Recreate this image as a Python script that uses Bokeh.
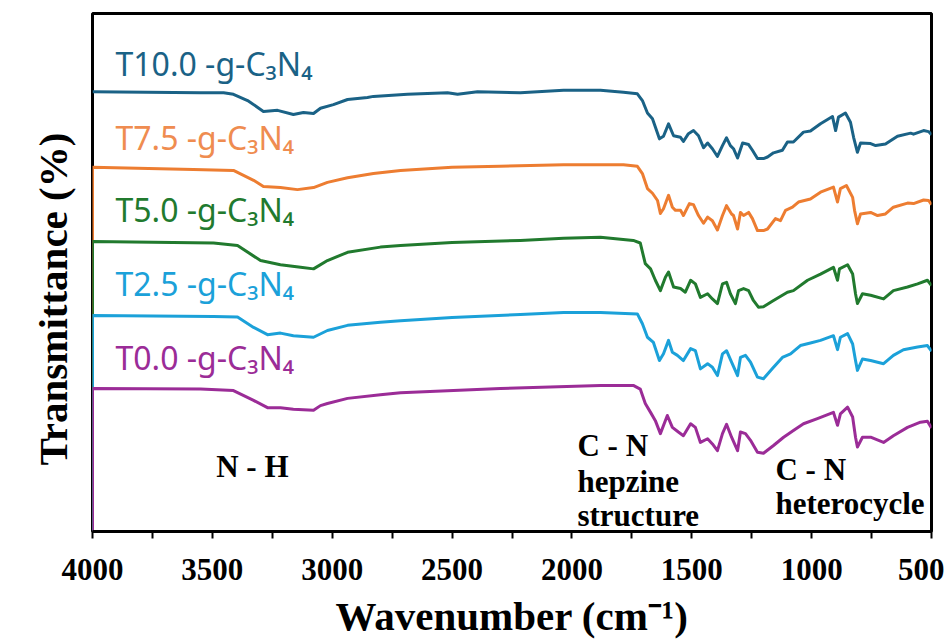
from bokeh.plotting import figure
from bokeh.models import Range1d, FixedTicker, Label, Title
from bokeh.embed import file_html
from bokeh.resources import INLINE

# ---------------- data ----------------
wn_t10 = [4000, 3549, 3453, 3412, 3353, 3287, 3228, 3162, 3120, 3078, 3049, 2995, 2936, 2853, 2828,
          2686, 2519, 2477, 2394, 2215, 2035, 1881, 1785, 1727, 1706, 1685, 1664, 1652, 1635, 1618,
          1597, 1576, 1547, 1535, 1514, 1493, 1472, 1451, 1434, 1414, 1393, 1372, 1355, 1339, 1326,
          1309, 1288, 1263, 1247, 1226, 1201, 1184, 1159, 1122, 1101, 1076, 1034, 1005, 963, 913,
          900, 888, 859, 838, 825, 809, 796, 754, 733, 692, 642, 587, 575, 533, 512, 500]
tr_t10 = [84.9, 84.7, 84.7, 84.4, 83.2, 81.1, 81.3, 80.5, 80.9, 80.7, 81.7, 82.4, 83.4, 83.8, 84.0,
          84.4, 84.7, 84.4, 84.9, 84.7, 85.2, 85.2, 84.8, 84.5, 83.2, 80.8, 79.7, 78.1, 75.8, 76.3,
          78.7, 76.4, 76.1, 75.3, 76.8, 77.4, 76.4, 74.1, 75.0, 73.9, 72.4, 74.5, 76.0, 74.5, 73.9,
          72.1, 75.0, 74.7, 73.6, 72.0, 72.0, 72.3, 73.1, 73.6, 75.2, 75.2, 77.1, 77.3, 78.7, 80.1,
          77.4, 80.0, 80.8, 79.0, 76.1, 73.2, 75.0, 74.9, 74.5, 74.8, 76.3, 76.9, 76.7, 77.4, 77.2, 76.6]

wn_t75 = [4000, 4000, 3579, 3412, 3328, 3287, 3216, 3145, 3078, 3020, 2936, 2828, 2715, 2500, 2300,
          2035, 1881, 1785, 1727, 1706, 1685, 1664, 1643, 1631, 1618, 1597, 1581, 1568, 1547, 1535,
          1510, 1493, 1472, 1451, 1434, 1414, 1393, 1372, 1355, 1334, 1326, 1309, 1297, 1284, 1263,
          1247, 1226, 1201, 1184, 1151, 1130, 1109, 1080, 1055, 1005, 963, 909, 892, 880, 855,
          829, 821, 809, 796, 754, 725, 692, 659, 600, 575, 533, 512, 500]
tr_t75 = [0.0, 70.3, 69.9, 69.7, 67.8, 66.6, 66.4, 66.0, 66.4, 67.4, 68.3, 69.1, 69.7, 70.3, 70.5,
          70.8, 70.8, 70.8, 70.5, 69.1, 66.2, 65.3, 63.9, 61.4, 62.3, 64.9, 62.6, 62.0, 62.0, 61.0,
          63.3, 63.1, 61.0, 59.5, 60.7, 60.0, 58.2, 61.0, 62.9, 61.3, 61.0, 58.4, 61.6, 61.0, 61.6,
          60.4, 58.1, 58.1, 58.4, 60.4, 60.0, 62.0, 62.6, 63.6, 64.2, 65.5, 66.5, 63.6, 66.2, 66.8,
          64.5, 62.0, 59.4, 61.3, 61.6, 61.0, 61.3, 62.6, 63.4, 63.3, 64.0, 63.9, 63.1]

wn_t50 = [4000, 4000, 3495, 3395, 3299, 3216, 3132, 3078, 3020, 2936, 2799, 2715, 2500, 2215, 2035,
          1881, 1744, 1715, 1694, 1672, 1652, 1631, 1610, 1597, 1576, 1547, 1527, 1505, 1485, 1464,
          1434, 1414, 1393, 1372, 1355, 1339, 1318, 1305, 1284, 1263, 1243, 1222, 1201, 1159, 1101,
          1076, 1017, 963, 909, 892, 884, 850, 829, 817, 809, 788, 754, 700, 659, 600, 558, 517, 500]
tr_t50 = [0.0, 56.0, 55.7, 55.2, 52.3, 51.5, 51.0, 50.7, 52.3, 53.9, 54.9, 55.2, 55.8, 56.2, 56.6,
          56.8, 56.2, 55.7, 51.7, 50.7, 48.5, 46.5, 49.1, 50.1, 47.2, 46.9, 46.2, 48.5, 47.8, 45.2,
          45.9, 44.9, 44.0, 47.8, 48.1, 45.9, 44.0, 46.5, 46.9, 46.5, 44.6, 43.3, 43.4, 44.6, 46.2,
          46.5, 48.5, 49.7, 51.0, 48.5, 50.7, 51.5, 49.7, 45.9, 44.0, 45.9, 45.6, 44.9, 46.5, 47.2,
          47.8, 48.5, 47.5]

wn_t25 = [4000, 4000, 3495, 3395, 3328, 3270, 3216, 3162, 3078, 3020, 2936, 2799, 2715, 2500, 2215,
          2035, 1881, 1727, 1706, 1685, 1660, 1635, 1618, 1597, 1581, 1560, 1535, 1505, 1485, 1464,
          1434, 1414, 1393, 1372, 1355, 1334, 1309, 1297, 1276, 1255, 1226, 1201, 1159, 1122, 1088,
          1047, 1005, 963, 909, 892, 880, 850, 829, 817, 809, 788, 754, 700, 659, 617, 558, 517, 500]
tr_t25 = [0.0, 41.7, 41.5, 41.4, 39.4, 38.0, 38.3, 37.8, 37.5, 38.8, 39.8, 40.4, 40.7, 41.3, 41.9,
          42.3, 42.3, 42.0, 40.1, 37.5, 36.5, 33.0, 34.3, 36.9, 34.6, 34.0, 33.0, 35.3, 34.9, 31.4,
          32.4, 31.7, 30.1, 34.3, 34.9, 32.7, 30.1, 33.6, 34.0, 32.7, 29.8, 29.5, 31.7, 33.6, 34.3,
          35.9, 36.4, 36.9, 37.8, 35.1, 37.5, 38.2, 36.2, 33.0, 31.1, 33.3, 33.0, 32.4, 34.0, 35.1,
          35.6, 35.9, 34.8]

wn_t00 = [4000, 4000, 3549, 3412, 3328, 3270, 3216, 3162, 3078, 3049, 3020, 2936, 2799, 2715, 2298,
          1881, 1744, 1715, 1694, 1672, 1652, 1631, 1602, 1581, 1556, 1535, 1505, 1485, 1464, 1434,
          1414, 1393, 1372, 1355, 1334, 1309, 1297, 1276, 1255, 1226, 1201, 1159, 1117, 1076, 1034,
          976, 909, 892, 880, 850, 829, 817, 809, 788, 754, 700, 659, 600, 546, 517, 500]
tr_t00 = [0.0, 27.6, 27.5, 27.2, 25.3, 23.9, 23.9, 23.6, 23.4, 24.3, 24.7, 25.7, 26.4, 26.8, 27.6,
          28.2, 28.2, 27.5, 24.7, 23.0, 21.4, 18.9, 22.4, 20.1, 19.2, 18.5, 20.8, 20.1, 17.2, 17.9,
          16.9, 15.6, 18.9, 20.7, 18.2, 15.6, 19.2, 18.9, 17.6, 15.3, 15.1, 16.6, 18.2, 19.5, 20.8,
          21.8, 23.0, 20.5, 22.7, 24.0, 22.1, 18.2, 16.3, 18.2, 18.2, 17.2, 18.5, 20.1, 21.1, 21.3, 20.0]

series_names = ["T10.0 -g-C\u2083N\u2084", "T7.5 -g-C\u2083N\u2084", "T5.0 -g-C\u2083N\u2084",
                "T2.5 -g-C\u2083N\u2084", "T0.0 -g-C\u2083N\u2084"]
series_wn = [wn_t10, wn_t75, wn_t50, wn_t25, wn_t00]
series_tr = [tr_t10, tr_t75, tr_t50, tr_t25, tr_t00]
line_colors = ["#1A6286", "#ED7D31", "#217A2E", "#1BA1D9", "#9B2C97"]
label_colors = ["#1A6286", "#EF8C50", "#217A2E", "#1BA1D9", "#9B2C97"]
label_tr = [90.3, 76.1, 62.1, 47.9, 33.5]

x_ticks = [4000, 3500, 3000, 2500, 2000, 1500, 1000, 500]
x_minor = [3750, 3250, 2750, 2250, 1750, 1250, 750]

# ---------------- figure ----------------
p = figure(width=944, height=644, output_backend="svg", toolbar_location=None,
           x_range=Range1d(4000, 500), y_range=Range1d(0, 100),
           min_border_left=92, min_border_right=13, min_border_top=13, min_border_bottom=113)
p.background_fill_color = "white"
p.border_fill_color = "white"
p.grid.visible = False
p.outline_line_color = "black"
p.outline_line_width = 3

for wn, tr, c in zip(series_wn, series_tr, line_colors):
    p.line(wn, tr, line_color=c, line_width=3, line_join="round")

serif = "Liberation Serif"
xa = p.xaxis[0]
xa.ticker = FixedTicker(ticks=x_ticks, minor_ticks=x_minor)
xa.axis_line_width = 3
xa.axis_line_color = "black"
xa.major_tick_line_width = 2
xa.minor_tick_line_width = 2
xa.major_tick_in = 0
xa.major_tick_out = 7
xa.minor_tick_in = 0
xa.minor_tick_out = 7
xa.major_label_text_font = serif
xa.major_label_text_font_style = "bold"
xa.major_label_text_font_size = "31px"
xa.major_label_text_color = "black"
xa.major_label_standoff = 20
xa.axis_label = "Wavenumber (cm\u207b\u00b9)"
xa.axis_label_text_font = serif
xa.axis_label_text_font_style = "bold"
xa.axis_label_text_font_size = "41px"
xa.axis_label_text_color = "black"
xa.axis_label_standoff = 10

p.yaxis.visible = False

p.add_layout(Title(text="Transmittance (%)", align="left", offset=66, standoff=34,
                   text_font=serif, text_font_style="bold", text_font_size="41px",
                   text_color="black"), "left")

for name, ty, c in zip(series_names, label_tr, label_colors):
    p.add_layout(Label(x=3904, y=ty, text=name, text_font="Noto Sans",
                       text_font_size="32px", text_color=c, text_baseline="alphabetic"))

annotations = [("N - H", 3333, 12.5, "center"),
               ("C - N", 1977, 16.6, "left"), ("hepzine", 1977, 9.7, "left"),
               ("structure", 1977, 3.1, "left"),
               ("C - N", 1151, 11.9, "left"), ("heterocycle", 1151, 5.4, "left")]
for t, ax, ay, al in annotations:
    p.add_layout(Label(x=ax, y=ay, text=t, text_font=serif, text_font_style="bold",
                       text_font_size="31px", text_color="black", text_align=al,
                       text_baseline="alphabetic"))

open("out.html", "w").write(file_html(p, INLINE))
